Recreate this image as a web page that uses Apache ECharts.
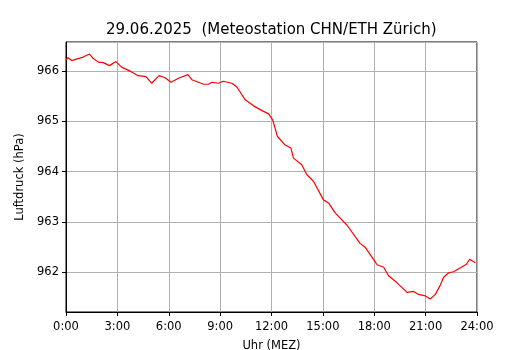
<!DOCTYPE html>
<html>
<head>
<meta charset="utf-8">
<script src="https://cdn.jsdelivr.net/npm/echarts@6/dist/echarts.min.js"></script>
<style>
  html, body { margin: 0; padding: 0; background: #fff; }
  #chart { width: 530px; height: 350px; }
</style>
</head>
<body>
<div id="chart"></div>
<script>
// minutes since midnight (MEZ)
var minutes = [0, 6, 20, 42, 60, 82, 96, 113, 131, 152, 175, 195, 228, 253, 280, 300, 326, 347, 368, 394,
  427, 441, 482, 499, 511, 534, 551, 581, 598, 628, 657, 692, 710, 724, 741, 768, 788, 797, 826, 844,
  867, 902, 920, 943, 984, 1031, 1048, 1078, 1090, 1113, 1130, 1160, 1195, 1218, 1235, 1259, 1276, 1294,
  1312, 1323, 1341, 1358, 1388, 1403, 1414, 1434];
// Luftdruck in hPa
var pressure = [966.22, 966.27, 966.21, 966.25, 966.28, 966.34, 966.25, 966.18, 966.17, 966.11, 966.19, 966.08,
  965.99, 965.91, 965.89, 965.76, 965.91, 965.87, 965.78, 965.86, 965.93, 965.83, 965.74, 965.74, 965.78,
  965.76, 965.80, 965.76, 965.69, 965.43, 965.31, 965.20, 965.15, 965.03, 964.70, 964.53, 964.47, 964.27,
  964.14, 963.94, 963.81, 963.44, 963.38, 963.18, 962.94, 962.57, 962.50, 962.25, 962.15, 962.10, 961.93,
  961.79, 961.60, 961.62, 961.56, 961.53, 961.47, 961.56, 961.75, 961.90, 961.99, 962.01, 962.11, 962.16,
  962.26, 962.19];

var data = minutes.map(function (m, i) { return [m, pressure[i]]; });

var font = 'DejaVu Sans';
var chart = echarts.init(document.getElementById('chart'));
chart.setOption({
  animation: false,
  backgroundColor: '#fff',
  title: {
    text: '29.06.2025  (Meteostation CHN/ETH Zürich)',
    left: 101, top: 18,
    textStyle: { fontFamily: font, fontSize: 15, fontWeight: 'normal', color: '#000' }
  },
  grid: {
    left: 66, right: 53, top: 42, bottom: 38, show: true, borderColor: '#000', borderWidth: 1,
    outerBoundsMode: 'none', containLabel: false
  },
  xAxis: {
    type: 'value', min: 0, max: 1440, interval: 180,
    name: 'Uhr (MEZ)', nameLocation: 'middle', nameGap: 28,
    nameTextStyle: { fontFamily: font, fontSize: 11.5, color: '#000' },
    axisLine: { lineStyle: { color: '#000' } },
    axisTick: { length: 4, lineStyle: { color: '#000' } },
    axisLabel: {
      fontFamily: font, fontSize: 11.5, color: '#000', margin: 9,
      formatter: function (v) { return Math.floor(v / 60) + ':00'; }
    },
    splitLine: { lineStyle: { color: '#b0b0b0', width: 1 } }
  },
  yAxis: {
    type: 'value', min: 961.21, max: 966.58, splitNumber: 5,
    name: 'Luftdruck (hPa)', nameLocation: 'middle', nameGap: 39,
    nameTextStyle: { fontFamily: font, fontSize: 11.5, color: '#000' },
    axisLine: { show: true, lineStyle: { color: '#000' } },
    axisTick: { show: true, length: 4, lineStyle: { color: '#000' } },
    axisLabel: {
      fontFamily: font, fontSize: 11.5, color: '#000', margin: 7,
      showMinLabel: false, showMaxLabel: false,
      formatter: function (v) { return Number.isInteger(v) ? String(v) : ''; }
    },
    splitLine: { lineStyle: { color: '#b0b0b0', width: 1 } }
  },
  series: [{
    type: 'line', data: data, showSymbol: false,
    lineStyle: { color: '#ff0000', width: 1.2 },
    itemStyle: { color: '#ff0000' }
  }]
});
</script>
</body>
</html>
